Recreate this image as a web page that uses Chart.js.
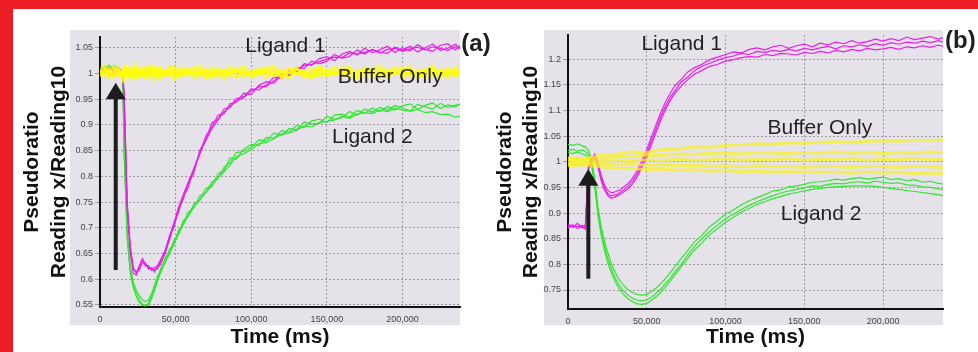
<!DOCTYPE html>
<html>
<head>
<meta charset="utf-8">
<script src="https://cdn.jsdelivr.net/npm/chart.js@4"></script>
<style>
  html, body { margin: 0; padding: 0; background: #fff; }
  body { width: 978px; height: 352px; position: relative; overflow: hidden; }
  .red-top { position: absolute; left: 0; top: 0; width: 978px; height: 9px; background: #ec1c24; }
  .red-left { position: absolute; left: 0; top: 0; width: 13px; height: 352px; background: #ec1c24; }
  #panelA { position: absolute; left: 14px; top: 10px; }
  #panelB { position: absolute; left: 488px; top: 10px; }
</style>
</head>
<body>
<div class="red-top"></div>
<div class="red-left"></div>
<canvas id="panelA" width="482" height="342"></canvas>
<canvas id="panelB" width="490" height="342"></canvas>
<script>
// ---------- tick labels ----------
const xTicks = [0, 50000, 100000, 150000, 200000];
const yTicksA = [0.55, 0.6, 0.65, 0.7, 0.75, 0.8, 0.85, 0.9, 0.95, 1, 1.05];
const yTicksB = [0.75, 0.8, 0.85, 0.9, 0.95, 1, 1.05, 1.1, 1.15, 1.2];
const xTitle = 'Time (ms)';
const yTitle = ['Pseudoratio', 'Reading x/Reading10'];

// ---------- panel (a) data ----------
const timeA = [0, 3000, 6000, 9000, 12000, 15000, 16000, 18000, 20000, 22000,
  24000, 26000, 28000, 30000, 32000, 34000, 36000, 38000, 40000, 43000,
  46000, 49000, 52000, 55000, 58000, 62000, 66000, 70000, 74000, 78000,
  82000, 86000, 90000, 95000, 100000, 105000, 110000, 115000, 120000, 125000,
  130000, 135000, 140000, 145000, 150000, 155000, 160000, 165000, 170000, 175000,
  180000, 185000, 190000, 195000, 200000, 205000, 210000, 215000, 220000, 225000,
  230000, 235000, 238000];

const ligand1A = [
  [1.004, 1.014, 0.996, 1.010, 1.006, 0.998, 0.952, 0.742, 0.652, 0.612,
   0.608, 0.624, 0.638, 0.626, 0.627, 0.617, 0.619, 0.620, 0.634, 0.648,
   0.683, 0.702, 0.738, 0.755, 0.784, 0.806, 0.851, 0.871, 0.904, 0.911,
   0.931, 0.934, 0.951, 0.955, 0.970, 0.968, 0.978, 0.993, 0.990, 1.006,
   1.003, 1.019, 1.016, 1.029, 1.033, 1.025, 1.038, 1.043, 1.036, 1.049,
   1.040, 1.046, 1.053, 1.041, 1.050, 1.044, 1.056, 1.047, 1.043, 1.055,
   1.058, 1.046, 1.054],
  [0.998, 1.006, 1.008, 0.996, 1.012, 1.002, 0.940, 0.735, 0.660, 0.620,
   0.614, 0.618, 0.632, 0.631, 0.620, 0.622, 0.614, 0.624, 0.628, 0.653,
   0.676, 0.708, 0.731, 0.762, 0.776, 0.814, 0.843, 0.879, 0.896, 0.919,
   0.922, 0.941, 0.944, 0.962, 0.959, 0.977, 0.984, 0.981, 0.999, 0.997,
   1.012, 1.010, 1.024, 1.019, 1.024, 1.037, 1.030, 1.033, 1.046, 1.038,
   1.047, 1.041, 1.039, 1.051, 1.045, 1.053, 1.042, 1.050, 1.057, 1.045,
   1.049, 1.057, 1.050],
  [1.008, 1.002, 1.012, 1.004, 0.998, 1.006, 0.960, 0.750, 0.665, 0.622,
   0.612, 0.626, 0.640, 0.630, 0.623, 0.621, 0.622, 0.626, 0.638, 0.656,
   0.684, 0.711, 0.740, 0.764, 0.786, 0.815, 0.846, 0.870, 0.893, 0.910,
   0.925, 0.936, 0.946, 0.953, 0.966, 0.974, 0.975, 0.986, 0.998, 0.996,
   1.007, 1.016, 1.018, 1.023, 1.028, 1.032, 1.031, 1.040, 1.038, 1.041,
   1.046, 1.040, 1.047, 1.049, 1.043, 1.048, 1.051, 1.046, 1.052, 1.049,
   1.045, 1.052, 1.048]
];

const ligand2A = [
  [1.006, 1.014, 1.004, 1.016, 1.010, 0.998, 0.845, 0.685, 0.618, 0.588,
   0.572, 0.560, 0.552, 0.549, 0.553, 0.566, 0.582, 0.600, 0.620, 0.634,
   0.658, 0.670, 0.696, 0.707, 0.729, 0.739, 0.762, 0.768, 0.789, 0.796,
   0.818, 0.827, 0.846, 0.849, 0.856, 0.871, 0.869, 0.884, 0.880, 0.893,
   0.891, 0.906, 0.902, 0.903, 0.917, 0.911, 0.914, 0.926, 0.919, 0.931,
   0.925, 0.934, 0.929, 0.938, 0.933, 0.927, 0.940, 0.935, 0.931, 0.942,
   0.934, 0.938, 0.940],
  [1.012, 1.006, 1.012, 1.008, 1.004, 1.002, 0.858, 0.695, 0.625, 0.594,
   0.579, 0.568, 0.560, 0.556, 0.560, 0.571, 0.588, 0.606, 0.615, 0.641,
   0.651, 0.677, 0.689, 0.714, 0.721, 0.746, 0.754, 0.777, 0.781, 0.805,
   0.811, 0.836, 0.833, 0.853, 0.862, 0.860, 0.876, 0.874, 0.889, 0.886,
   0.899, 0.895, 0.908, 0.911, 0.905, 0.919, 0.921, 0.915, 0.928, 0.923,
   0.933, 0.926, 0.936, 0.929, 0.937, 0.941, 0.930, 0.938, 0.943, 0.932,
   0.939, 0.935, 0.941],
  [1.004, 1.010, 1.016, 1.006, 1.012, 0.996, 0.840, 0.680, 0.612, 0.584,
   0.566, 0.555, 0.549, 0.548, 0.550, 0.561, 0.578, 0.597, 0.612, 0.632,
   0.650, 0.668, 0.688, 0.706, 0.722, 0.739, 0.755, 0.769, 0.782, 0.797,
   0.809, 0.822, 0.838, 0.844, 0.852, 0.864, 0.866, 0.873, 0.882, 0.884,
   0.890, 0.898, 0.896, 0.905, 0.907, 0.910, 0.916, 0.913, 0.921, 0.924,
   0.922, 0.929, 0.926, 0.932, 0.929, 0.927, 0.930, 0.924, 0.926, 0.920,
   0.921, 0.915, 0.917]
];

const bufferA = [
  [1.005, 0.996, 1.010, 0.992, 1.008, 0.998, 1.012, 0.994, 1.006, 0.990,
   1.010, 0.997, 1.004, 1.012, 0.993, 1.007, 0.999, 1.011, 0.991, 1.006,
   0.998, 1.013, 0.995, 1.004, 1.009, 0.992, 1.005, 0.999, 1.012, 0.994,
   1.008, 0.996, 1.010, 0.993, 1.006, 1.001, 1.013, 0.995, 1.004, 0.991,
   1.009, 0.998, 1.011, 0.994, 1.007, 1.000, 1.012, 0.993, 1.005, 0.997,
   1.010, 0.992, 1.008, 0.999, 1.013, 0.995, 1.006, 0.991, 1.009, 0.997,
   1.011, 0.994, 1.006],
  [0.994, 1.008, 0.999, 1.013, 0.995, 1.006, 0.990, 1.009, 0.997, 1.012,
   0.993, 1.005, 1.000, 0.991, 1.010, 0.996, 1.008, 0.992, 1.011, 0.999,
   1.007, 0.989, 1.009, 0.996, 1.003, 1.012, 0.994, 1.008, 0.991, 1.005,
   0.997, 1.013, 0.992, 1.006, 0.999, 1.010, 0.993, 1.007, 0.995, 1.011,
   0.998, 1.004, 0.990, 1.009, 0.996, 1.012, 0.994, 1.006, 0.999, 1.011,
   0.993, 1.007, 0.997, 1.013, 0.991, 1.005, 0.999, 1.010, 0.994, 1.008,
   0.992, 1.012, 0.998],
  [1.002, 1.015, 0.993, 1.004, 1.011, 0.989, 1.003, 1.014, 0.992, 1.001,
   1.016, 0.994, 1.009, 0.998, 1.004, 1.015, 0.990, 1.002, 1.006, 0.995,
   1.014, 1.001, 0.992, 1.011, 0.996, 1.003, 1.015, 0.991, 1.000, 1.010,
   0.989, 1.004, 1.002, 1.014, 0.993, 0.998, 1.006, 1.015, 0.990, 1.003,
   1.012, 0.992, 0.999, 1.015, 0.994, 1.003, 0.998, 1.014, 0.990, 1.004,
   1.006, 1.015, 0.993, 1.001, 1.004, 1.014, 0.990, 1.003, 1.015, 0.993,
   1.002, 1.007, 0.995],
  [0.997, 1.003, 1.006, 0.998, 1.001, 1.004, 0.997, 1.002, 1.008, 0.999,
   1.003, 1.009, 0.996, 1.002, 1.005, 0.999, 1.004, 0.998, 1.006, 1.002,
   0.996, 1.005, 1.002, 0.998, 1.006, 1.000, 1.003, 1.007, 0.998, 1.002,
   1.004, 0.999, 1.006, 1.001, 0.997, 1.004, 1.001, 0.998, 1.007, 1.002,
   1.000, 1.005, 0.997, 1.003, 1.008, 0.999, 1.002, 1.004, 0.997, 1.006,
   1.001, 0.998, 1.005, 1.002, 1.000, 1.004, 0.998, 1.006, 1.002, 0.999,
   1.004, 1.000, 1.003]
];

// ---------- panel (b) data ----------
const timeB = [0, 3000, 6000, 9000, 11000, 13000, 15000, 17000, 19000, 21000,
  23000, 25000, 27000, 29000, 31000, 33000, 35000, 38000, 41000, 44000,
  47000, 50000, 53000, 56000, 59000, 62000, 65000, 68000, 72000, 76000,
  80000, 85000, 90000, 95000, 100000, 105000, 110000, 115000, 120000, 125000,
  130000, 135000, 140000, 145000, 150000, 155000, 160000, 165000, 170000, 175000,
  180000, 185000, 190000, 195000, 200000, 205000, 210000, 215000, 220000, 225000,
  230000, 235000, 238000];

const ligand1B = [
  [0.879, 0.872, 0.880, 0.871, 0.877, 0.992, 1.006, 1.015, 0.998, 0.974,
   0.956, 0.945, 0.940, 0.940, 0.943, 0.945, 0.950, 0.957, 0.968, 0.983,
   1.003, 1.024, 1.049, 1.073, 1.097, 1.117, 1.134, 1.149, 1.161, 1.175,
   1.183, 1.190, 1.199, 1.204, 1.209, 1.214, 1.212, 1.219, 1.222, 1.218,
   1.224, 1.227, 1.221, 1.226, 1.229, 1.224, 1.231, 1.228, 1.233, 1.230,
   1.236, 1.231, 1.234, 1.239, 1.235, 1.240, 1.236, 1.243, 1.238, 1.241,
   1.244, 1.239, 1.242],
  [0.874, 0.877, 0.873, 0.876, 0.872, 0.988, 1.003, 1.011, 0.994, 0.969,
   0.950, 0.939, 0.933, 0.935, 0.936, 0.940, 0.944, 0.952, 0.962, 0.977,
   0.996, 1.016, 1.041, 1.065, 1.089, 1.109, 1.126, 1.139, 1.156, 1.165,
   1.177, 1.186, 1.192, 1.198, 1.203, 1.206, 1.211, 1.209, 1.215, 1.213,
   1.217, 1.215, 1.219, 1.216, 1.221, 1.218, 1.222, 1.225, 1.220, 1.226,
   1.224, 1.228, 1.225, 1.230, 1.227, 1.232, 1.229, 1.233, 1.231, 1.235,
   1.232, 1.236, 1.233],
  [0.871, 0.875, 0.870, 0.874, 0.869, 0.985, 1.000, 1.008, 0.990, 0.964,
   0.946, 0.935, 0.929, 0.930, 0.933, 0.936, 0.940, 0.947, 0.957, 0.971,
   0.990, 1.009, 1.034, 1.058, 1.082, 1.103, 1.120, 1.134, 1.148, 1.160,
   1.170, 1.178, 1.186, 1.190, 1.196, 1.199, 1.203, 1.205, 1.204, 1.209,
   1.207, 1.211, 1.210, 1.208, 1.213, 1.211, 1.215, 1.212, 1.217, 1.214,
   1.219, 1.216, 1.221, 1.218, 1.220, 1.223, 1.219, 1.224, 1.222, 1.226,
   1.223, 1.227, 1.225]
];

const ligand2B = [
  [1.034, 1.032, 1.035, 1.031, 1.029, 1.022, 1.004, 0.966, 0.912, 0.875,
   0.847, 0.825, 0.806, 0.791, 0.778, 0.768, 0.760, 0.751, 0.745, 0.741,
   0.740, 0.742, 0.747, 0.754, 0.763, 0.773, 0.784, 0.796, 0.812, 0.827,
   0.843, 0.857, 0.874, 0.885, 0.898, 0.906, 0.916, 0.924, 0.930, 0.936,
   0.943, 0.945, 0.951, 0.953, 0.956, 0.960, 0.961, 0.963, 0.966, 0.964,
   0.967, 0.969, 0.966, 0.968, 0.970, 0.965, 0.967, 0.963, 0.965, 0.960,
   0.962, 0.958, 0.957],
  [1.022, 1.024, 1.021, 1.023, 1.020, 1.014, 0.998, 0.958, 0.902, 0.865,
   0.836, 0.814, 0.796, 0.780, 0.767, 0.757, 0.749, 0.740, 0.734, 0.730,
   0.729, 0.731, 0.736, 0.744, 0.752, 0.763, 0.773, 0.786, 0.801, 0.818,
   0.834, 0.850, 0.864, 0.877, 0.889, 0.898, 0.907, 0.915, 0.922, 0.928,
   0.934, 0.939, 0.943, 0.946, 0.949, 0.953, 0.952, 0.956, 0.958, 0.957,
   0.960, 0.961, 0.959, 0.962, 0.960, 0.958, 0.959, 0.955, 0.954, 0.951,
   0.950, 0.947, 0.946],
  [1.018, 1.016, 1.019, 1.015, 1.013, 1.008, 0.993, 0.952, 0.896, 0.858,
   0.829, 0.806, 0.788, 0.773, 0.760, 0.750, 0.742, 0.733, 0.727, 0.723,
   0.722, 0.724, 0.730, 0.737, 0.746, 0.756, 0.768, 0.780, 0.796, 0.811,
   0.827, 0.842, 0.858, 0.870, 0.882, 0.892, 0.902, 0.909, 0.917, 0.922,
   0.928, 0.932, 0.937, 0.940, 0.943, 0.946, 0.948, 0.950, 0.951, 0.952,
   0.953, 0.953, 0.953, 0.952, 0.950, 0.948, 0.946, 0.944, 0.942, 0.940,
   0.938, 0.936, 0.934]
];

const bufferTimeB = [0, 10000, 20000, 30000, 40000, 50000, 60000, 70000, 80000, 90000,
  100000, 110000, 120000, 130000, 140000, 150000, 160000, 170000, 180000, 190000,
  200000, 210000, 220000, 230000, 238000];

const bufferB = [
  [1.008, 1.006, 1.012, 1.014, 1.019, 1.018, 1.024, 1.025, 1.029, 1.028,
   1.032, 1.033, 1.035, 1.034, 1.037, 1.036, 1.038, 1.039, 1.038, 1.040,
   1.041, 1.040, 1.042, 1.041, 1.043],
  [1.004, 1.006, 1.005, 1.009, 1.010, 1.013, 1.012, 1.015, 1.014, 1.016,
   1.017, 1.015, 1.018, 1.017, 1.016, 1.018, 1.017, 1.019, 1.017, 1.018,
   1.016, 1.018, 1.017, 1.019, 1.018],
  [1.000, 1.002, 0.999, 1.003, 1.001, 1.004, 1.002, 1.005, 1.003, 1.004,
   1.006, 1.003, 1.005, 1.004, 1.006, 1.003, 1.005, 1.004, 1.006, 1.003,
   1.005, 1.004, 1.006, 1.004, 1.005],
  [0.996, 0.998, 0.995, 0.994, 0.996, 0.993, 0.994, 0.992, 0.993, 0.991,
   0.992, 0.990, 0.992, 0.990, 0.991, 0.989, 0.991, 0.990, 0.989, 0.991,
   0.990, 0.989, 0.991, 0.990, 0.989],
  [0.992, 0.994, 0.990, 0.988, 0.987, 0.985, 0.986, 0.983, 0.984, 0.982,
   0.983, 0.981, 0.982, 0.980, 0.981, 0.979, 0.980, 0.979, 0.978, 0.980,
   0.978, 0.979, 0.977, 0.978, 0.977]
];

Chart.defaults.font.family = '"Liberation Sans", Arial, sans-serif';

const toPoints = (times, vals) => vals.map((v, i) => ({ x: times[i], y: v }));

const lineSet = (label, times, vals, color, width) => ({
    label: label,
    data: toPoints(times, vals),
    borderColor: color,
    borderWidth: width,
    pointRadius: 0,
    tension: 0,
    fill: false
});

// background, arrow and the text notes inside each panel
const panelDeco = {
    id: 'panelDeco',
    beforeDraw(chart, args, opts) {
        const { ctx, chartArea: a } = chart;
        const p = opts.bgPad;
        ctx.save();
        ctx.fillStyle = opts.bgColor;
        ctx.fillRect(a.left - p.left, a.top - p.top,
            a.right - a.left + p.left + p.right, a.bottom - a.top + p.top + p.bottom);
        ctx.restore();
    },
    afterDraw(chart, args, opts) {
        const { ctx } = chart;
        const x = chart.scales.x, y = chart.scales.y;
        const ar = opts.arrow;
        const px = x.getPixelForValue(ar.t);
        const yTail = y.getPixelForValue(ar.from);
        const yTip = y.getPixelForValue(ar.to);
        const yBase = y.getPixelForValue(ar.headBase);
        ctx.save();
        ctx.fillStyle = '#1c1c1c';
        ctx.fillRect(px - 2, yBase - 1, 4, yTail - yBase + 1);
        ctx.beginPath();
        ctx.moveTo(px, yTip);
        ctx.lineTo(px + 10, yBase);
        ctx.lineTo(px - 10, yBase);
        ctx.closePath();
        ctx.fill();

        ctx.textAlign = 'left';
        ctx.textBaseline = 'alphabetic';
        opts.notes.forEach(n => {
            ctx.font = (n.bold ? 'bold ' : '') + n.size + 'px "Liberation Sans", Arial, sans-serif';
            ctx.fillStyle = '#231f20';
            ctx.fillText(n.text, x.getPixelForValue(n.t), y.getPixelForValue(n.v));
        });
        ctx.restore();
    }
};

const makePanel = (canvasId, cfg) => {
    const ctx = document.getElementById(canvasId).getContext('2d');
    return new Chart(ctx, {
        type: 'line',
        data: { datasets: cfg.datasets },
        options: {
            responsive: false,
            animation: false,
            events: [],
            layout: { padding: cfg.padding },
            plugins: {
                legend: { display: false },
                tooltip: { enabled: false },
                panelDeco: cfg.deco
            },
            scales: {
                x: {
                    type: 'linear',
                    min: 0,
                    max: 238000,
                    afterFit: s => { s.height = cfg.xHeight; },
                    afterBuildTicks: s => { s.ticks = xTicks.map(v => ({ value: v })); },
                    ticks: {
                        maxRotation: 0,
                        padding: 7,
                        color: '#444',
                        font: { size: 9 },
                        callback: v => v.toLocaleString('en-US')
                    },
                    grid: { color: '#9c9a9e', lineWidth: 1, drawTicks: false },
                    border: { color: '#111', width: 2, dash: [2, 2] },
                    title: {
                        display: true,
                        text: xTitle,
                        color: '#111',
                        font: { size: 21, weight: 'bold', lineHeight: 1.27 },
                        padding: { top: 0, bottom: 1 }
                    }
                },
                y: {
                    type: 'linear',
                    min: cfg.yMin,
                    max: cfg.yMax,
                    afterFit: s => { s.width = cfg.yWidth; },
                    afterBuildTicks: s => { s.ticks = cfg.yTicks.map(v => ({ value: v })); },
                    ticks: {
                        padding: 2,
                        color: '#444',
                        font: { size: 9 },
                        callback: v => String(Number(v.toFixed(2)))
                    },
                    grid: { color: '#9c9a9e', lineWidth: 1, tickLength: 5 },
                    border: { color: '#111', width: 2, dash: [2, 2] },
                    title: {
                        display: true,
                        text: yTitle,
                        color: '#111',
                        font: { size: 21, weight: 'bold', lineHeight: 1.27 },
                        padding: { top: cfg.yTitlePad, bottom: 0 }
                    }
                }
            }
        },
        plugins: [panelDeco]
    });
};

// yellow first so it sits on top of the ligand traces
const magenta = '#e81ee8';
const green = '#2ee62e';

const datasetsA = [
    ...bufferA.map((v, i) => lineSet('Buffer Only ' + (i + 1), timeA, v, 'rgba(255,255,0,0.8)', 2.6)),
    ...ligand1A.map((v, i) => lineSet('Ligand 1 ' + (i + 1), timeA, v, magenta, 1.2)),
    ...ligand2A.map((v, i) => lineSet('Ligand 2 ' + (i + 1), timeA, v, green, 1.2))
];

const datasetsB = [
    ...bufferB.map((v, i) => lineSet('Buffer Only ' + (i + 1), bufferTimeB, v, 'rgba(248,242,30,0.72)', 3)),
    ...ligand1B.map((v, i) => lineSet('Ligand 1 ' + (i + 1), timeB, v, magenta, 1.2)),
    ...ligand2B.map((v, i) => lineSet('Ligand 2 ' + (i + 1), timeB, v, green, 1.2))
];

makePanel('panelA', {
    datasets: datasetsA,
    padding: { left: 0, top: 27, right: 36, bottom: 0 },
    xHeight: 45,
    yWidth: 86,
    yTitlePad: 5,
    yMin: 0.546,
    yMax: 1.071,
    yTicks: yTicksA,
    deco: {
        bgColor: '#e6e2e9',
        bgPad: { left: 30, top: 7, right: 0, bottom: 18 },
        arrow: { t: 10400, from: 0.618, to: 0.982, headBase: 0.95 },
        notes: [
            { text: 'Ligand 1', t: 96000, v: 1.041, size: 21 },
            { text: 'Buffer Only', t: 157200, v: 0.982, size: 21 },
            { text: 'Ligand 2', t: 153400, v: 0.865, size: 21 },
            { text: '(a)', t: 238900, v: 1.0435, size: 24, bold: true }
        ]
    }
});

makePanel('panelB', {
    datasets: datasetsB,
    padding: { left: 0, top: 25, right: 35, bottom: 0 },
    xHeight: 43,
    yWidth: 80,
    yTitlePad: 3.4,
    yMin: 0.713,
    yMax: 1.247,
    yTicks: yTicksB,
    deco: {
        bgColor: '#e6e2e9',
        bgPad: { left: 24, top: 5, right: 0, bottom: 16 },
        arrow: { t: 12900, from: 0.772, to: 0.986, headBase: 0.953 },
        notes: [
            { text: 'Ligand 1', t: 46600, v: 1.218, size: 21 },
            { text: 'Buffer Only', t: 126600, v: 1.0545, size: 21 },
            { text: 'Ligand 2', t: 135100, v: 0.886, size: 21 },
            { text: '(b)', t: 239300, v: 1.221, size: 24, bold: true }
        ]
    }
});
</script>
</body>
</html>
